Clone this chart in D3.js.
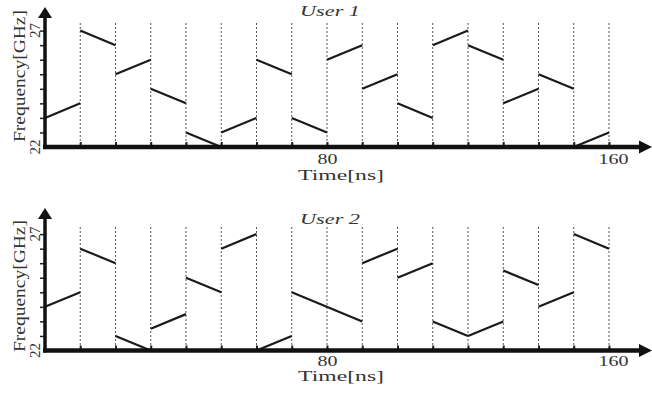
<!DOCTYPE html>
<html>
<head>
<meta charset="utf-8">
<script src="https://cdn.jsdelivr.net/npm/d3@7"></script>
<style>
  body { margin: 0; background: #fff; }
  svg { display: block; }
  text { font-family: "Liberation Serif", Tinos, "Times New Roman", Times, serif; fill: #333; font-weight: normal; }
</style>
</head>
<body>
<svg id="chart" width="652" height="398"></svg>
<script>
// time grid (ns) and labelled ticks
const gridTimes = [10, 20, 30, 40, 50, 60, 70, 80, 90, 100, 110, 120, 130, 140, 150, 160];
const labeledTimes = [80, 160];
// frequency ticks (GHz)
const freqTicks = [22.625, 23.25, 23.875, 24.5, 25.125, 25.75, 26.375, 27];
const labeledFreqs = [22, 27];

// User 1 chirp segments: start/end time (ns), start/end frequency (GHz)
const u1T0 = [0, 10, 20, 30, 40, 50, 60, 70, 80, 90, 100, 110, 120, 130, 140, 150];
const u1T1 = [10, 20, 30, 40, 50, 60, 70, 80, 90, 100, 110, 120, 130, 140, 150, 160];
const u1F0 = [23.25, 27, 25.125, 24.5, 22.625, 22.625, 25.75, 23.25, 25.75, 24.5, 23.875, 26.375, 26.375, 23.875, 25.125, 22];
const u1F1 = [23.875, 26.375, 25.75, 23.875, 22, 23.25, 25.125, 22.625, 26.375, 25.125, 23.25, 27, 25.75, 24.5, 24.5, 22.625];

// User 2 chirp segments
const u2T0 = [0, 10, 20, 30, 40, 50, 60, 70, 90, 100, 110, 120, 130, 140, 150];
const u2T1 = [10, 20, 30, 40, 50, 60, 70, 90, 100, 110, 120, 130, 140, 150, 160];
const u2F0 = [23.875, 26.375, 22.625, 22.9375, 25.125, 26.375, 22, 24.5, 25.75, 25.125, 23.25, 22.625, 25.4375, 23.875, 27];
const u2F1 = [24.5, 25.75, 22, 23.5625, 24.5, 27, 22.625, 23.25, 26.375, 25.75, 22.625, 23.25, 24.8125, 24.5, 26.375];

const serif = "'Liberation Serif', Tinos, 'Times New Roman', Times, serif";
const svg = d3.select("#chart");

var x = d3.scaleLinear().domain([0, 160]).range([45, 609]);

function drawPanel(p) {
  var y = d3.scaleLinear().domain([22, 27]).range([p.base, p.base - 116.4]);
  var g = svg.append("g");

  // dashed guides
  g.selectAll("line.grid")
    .data(gridTimes)
    .enter().append("line")
    .attr("x1", d => x(d)).attr("x2", d => x(d))
    .attr("y1", p.gridTop).attr("y2", p.base)
    .attr("stroke", "#555")
    .attr("stroke-width", 1)
    .attr("stroke-dasharray", "2,2");

  // chirp segments
  var segs = p.t0.map((t, i) => ({t0: t, t1: p.t1[i], f0: p.f0[i], f1: p.f1[i]}));
  g.selectAll("line.seg")
    .data(segs)
    .enter().append("line")
    .attr("x1", d => x(d.t0)).attr("x2", d => x(d.t1))
    .attr("y1", d => y(d.f0)).attr("y2", d => y(d.f1))
    .attr("stroke", "#1a1a1a")
    .attr("stroke-width", 2.2);

  // x axis ticks + labels
  var xa = g.append("g")
    .attr("transform", "translate(0," + p.base + ")")
    .call(d3.axisBottom(x)
      .tickValues(gridTimes)
      .tickSize(-5)
      .tickPadding(p.pad)
      .tickFormat(d => labeledTimes.includes(d) ? d : ""));
  xa.attr("font-family", serif);
  xa.select(".domain").remove();
  xa.selectAll(".tick line").attr("stroke", "#222").attr("stroke-width", 2);
  xa.selectAll(".tick text")
    .attr("font-family", serif)
    .attr("font-size", 15)
    .attr("fill", "#333")
    .attr("dy", "0.92em")
    .attr("textLength", d => d === 160 ? 30 : 20)
    .attr("lengthAdjust", "spacingAndGlyphs")
    .attr("dx", d => d === 160 ? 4 : 0);

  // y axis ticks
  var ya = g.append("g")
    .attr("transform", "translate(45,0)")
    .call(d3.axisLeft(y).tickValues(freqTicks).tickSize(5).tickFormat(""));
  ya.select(".domain").remove();
  ya.selectAll(".tick line").attr("stroke", "#222").attr("stroke-width", 1.5);

  // axis lines with arrowheads
  g.append("line")
    .attr("x1", 43).attr("x2", 641)
    .attr("y1", p.base).attr("y2", p.base)
    .attr("stroke", "#111").attr("stroke-width", 4.5);
  g.append("path")
    .attr("d", `M652,${p.base} L639,${p.base - 6.5} L639,${p.base + 6.5} Z`)
    .attr("fill", "#111");
  g.append("line")
    .attr("x1", 45).attr("x2", 45)
    .attr("y1", p.base + 2).attr("y2", p.arrowTop + 9)
    .attr("stroke", "#111").attr("stroke-width", 3.5);
  g.append("path")
    .attr("d", `M45,${p.arrowTop} L38,${p.arrowTop + 11} L52,${p.arrowTop + 11} Z`)
    .attr("fill", "#111");

  // rotated y labels
  g.selectAll("text.flab")
    .data(labeledFreqs)
    .enter().append("text")
    .attr("transform", d => "translate(40," + y(d) + ") rotate(-90)")
    .attr("text-anchor", "middle")
    .attr("font-family", serif)
    .attr("font-size", 15)
    .text(d => d);

  g.append("text")
    .attr("transform", "translate(25," + p.freqMid + ") rotate(-90)")
    .attr("text-anchor", "middle")
    .attr("font-family", serif)
    .attr("font-size", 17)
    .attr("textLength", 132)
    .attr("lengthAdjust", "spacingAndGlyphs")
    .text("Frequency[GHz]");

  g.append("text")
    .attr("x", 341).attr("y", p.timeY)
    .attr("text-anchor", "middle")
    .attr("font-family", serif)
    .attr("font-size", 15)
    .attr("textLength", 86)
    .attr("lengthAdjust", "spacingAndGlyphs")
    .text("Time[ns]");

  g.append("text")
    .attr("x", 330).attr("y", p.titleY)
    .attr("text-anchor", "middle")
    .attr("font-family", serif)
    .attr("font-size", 15)
    .attr("font-style", "italic")
    .attr("textLength", 60)
    .attr("lengthAdjust", "spacingAndGlyphs")
    .text(p.title);
}

drawPanel({title: "User 1", base: 147, gridTop: 23, arrowTop: 7, freqMid: 76, timeY: 180, titleY: 16, pad: 3,
  t0: u1T0, t1: u1T1, f0: u1F0, f1: u1F1});
drawPanel({title: "User 2", base: 350.5, gridTop: 227, arrowTop: 208, freqMid: 286, timeY: 381, titleY: 224, pad: 2,
  t0: u2T0, t1: u2T1, f0: u2F0, f1: u2F1});
</script>
</body>
</html>
